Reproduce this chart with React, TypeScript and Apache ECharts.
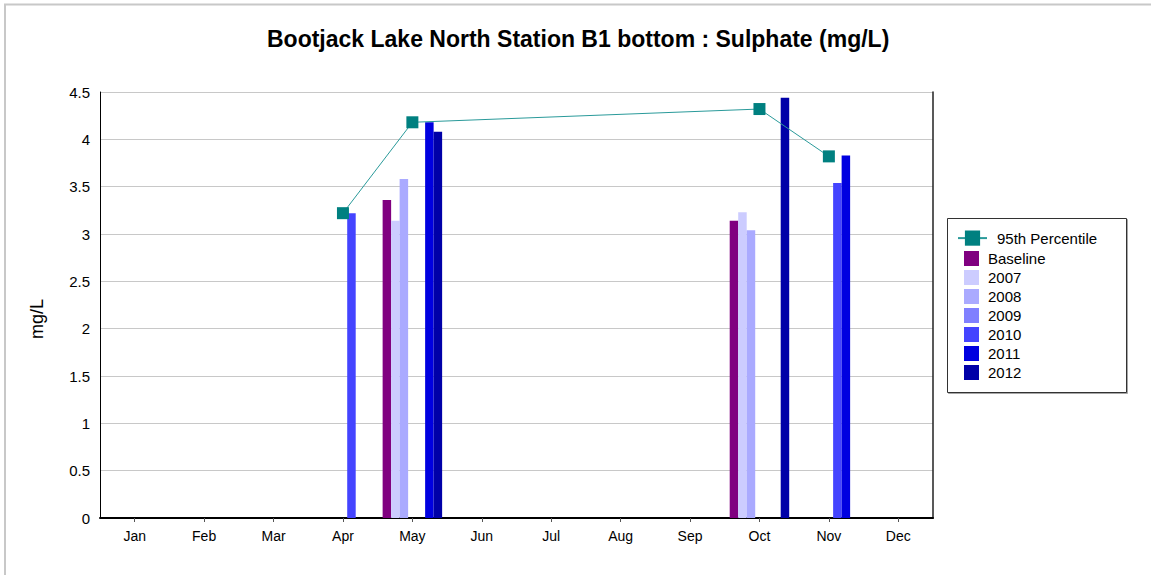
import React, { useEffect, useRef } from "react";
import * as echarts from "echarts";

const months = ["Jan", "Feb", "Mar", "Apr", "May", "Jun", "Jul", "Aug", "Sep", "Oct", "Nov", "Dec"];
const percentile95 = [null, null, null, 3.22, 4.18, null, null, null, null, 4.32, 3.82, null];
const baseline = [null, null, null, null, 3.36, null, null, null, null, 3.14, null, null];
const y2007 = [null, null, null, null, 3.14, null, null, null, null, 3.23, null, null];
const y2008 = [null, null, null, null, 3.58, null, null, null, null, 3.04, null, null];
const y2009 = [null, null, null, null, null, null, null, null, null, null, null, null];
const y2010 = [null, null, null, 3.22, null, null, null, null, null, null, 3.54, null];
const y2011 = [null, null, null, null, 4.18, null, null, null, null, null, 3.83, null];
const y2012 = [null, null, null, null, 4.08, null, null, null, null, 4.44, null, null];
const yTicks = { min: 0, max: 4.5, interval: 0.5 };

const barSeries = [
  { name: "Baseline", data: baseline, color: "#800080" },
  { name: "2007", data: y2007, color: "#CCCCFF" },
  { name: "2008", data: y2008, color: "#AAAAFF" },
  { name: "2009", data: y2009, color: "#8080FF" },
  { name: "2010", data: y2010, color: "#4444FF" },
  { name: "2011", data: y2011, color: "#0000E0" },
  { name: "2012", data: y2012, color: "#0000A8" },
];

const FONT = "'Liberation Sans', Arial, sans-serif";

export default function App() {
  const ref = useRef<HTMLDivElement>(null);
  useEffect(() => {
    if (!ref.current) return;
    const chart = echarts.init(ref.current, null, { renderer: "svg" });
    chart.setOption({
      animation: false,
      backgroundColor: "#ffffff",
      textStyle: { fontFamily: FONT },
      title: {
        text: "Bootjack Lake North Station B1 bottom : Sulphate (mg/L)",
        left: 267,
        top: 27,
        padding: 0,
        textStyle: { fontFamily: FONT, fontSize: 23, fontWeight: "bold", color: "#000" },
      },
      grid: { left: 100, right: 218, top: 92, bottom: 57, containLabel: false },
      legend: [
        {
          orient: "vertical",
          left: 957,
          top: 230.5,
          padding: 0,
          itemWidth: 29,
          itemHeight: 19,
          data: ["95th Percentile"],
          textStyle: { fontFamily: FONT, fontSize: 15, color: "#000", padding: [0, 0, 0, 5] },
        },
        {
          orient: "vertical",
          left: 964,
          top: 251,
          padding: 0,
          itemWidth: 15,
          itemHeight: 15,
          itemGap: 4,
          icon: "rect",
          data: barSeries.map((s) => s.name),
          textStyle: { fontFamily: FONT, fontSize: 15, color: "#000", padding: [0, 0, 0, 4] },
        },
      ],
      graphic: [
        {
          type: "rect",
          shape: { x: 5, y: 4.5, width: 1300, height: 800 },
          style: { fill: "none", stroke: "#c8c8c8", lineWidth: 2 },
          silent: true,
        },
        {
          type: "rect",
          shape: { x: 947.5, y: 218.5, width: 179, height: 174 },
          style: { fill: "#fff", stroke: "#333", lineWidth: 1, shadowColor: "rgba(0,0,0,0.35)", shadowOffsetX: 1, shadowOffsetY: 1, shadowBlur: 1 },
          z: -1,
          silent: true,
        },
        {
          type: "text",
          x: 37,
          y: 319,
          rotation: Math.PI / 2,
          style: { text: "mg/L", fontFamily: FONT, fontSize: 18, fill: "#000", align: "center", verticalAlign: "middle" },
        },
      ],
      xAxis: {
        type: "category",
        data: months,
        boundaryGap: true,
        axisLine: { show: true, lineStyle: { color: "#000", width: 2 } },
        axisTick: { show: true, alignWithLabel: true, length: 4, lineStyle: { color: "#555" } },
        axisLabel: { margin: 11, fontFamily: FONT, fontSize: 14, color: "#000" },
        splitLine: { show: false },
      },
      yAxis: [
        {
          type: "value",
          min: yTicks.min,
          max: yTicks.max,
          interval: yTicks.interval,
          axisLine: { show: true, lineStyle: { color: "#000", width: 1 } },
          axisTick: { show: false },
          axisLabel: { margin: 10, fontFamily: FONT, fontSize: 15, color: "#000" },
          splitLine: { show: true, lineStyle: { color: "#c8c8c8", width: 1 } },
        },
        {
          type: "value",
          position: "right",
          min: yTicks.min,
          max: yTicks.max,
          interval: yTicks.interval,
          axisLine: { show: true, lineStyle: { color: "#222", width: 1.5 } },
          axisTick: { show: false },
          axisLabel: { show: false },
          splitLine: { show: false },
        },
      ],
      series: [
        {
          name: "95th Percentile",
          type: "line",
          data: percentile95,
          connectNulls: true,
          symbol: "rect",
          symbolSize: 12,
          itemStyle: { color: "#008080" },
          lineStyle: { color: "#2a9a9a", width: 1 },
          z: 10,
        },
        ...barSeries.map((s) => ({
          name: s.name,
          type: "bar",
          data: s.data,
          barWidth: 8.5,
          barGap: "0%",
          itemStyle: { color: s.color },
          z: 2,
        })),
      ],
    });
    return () => chart.dispose();
  }, []);
  return <div ref={ref} style={{ position: "fixed", left: 0, top: 0, width: 1151, height: 575 }} />;
}
